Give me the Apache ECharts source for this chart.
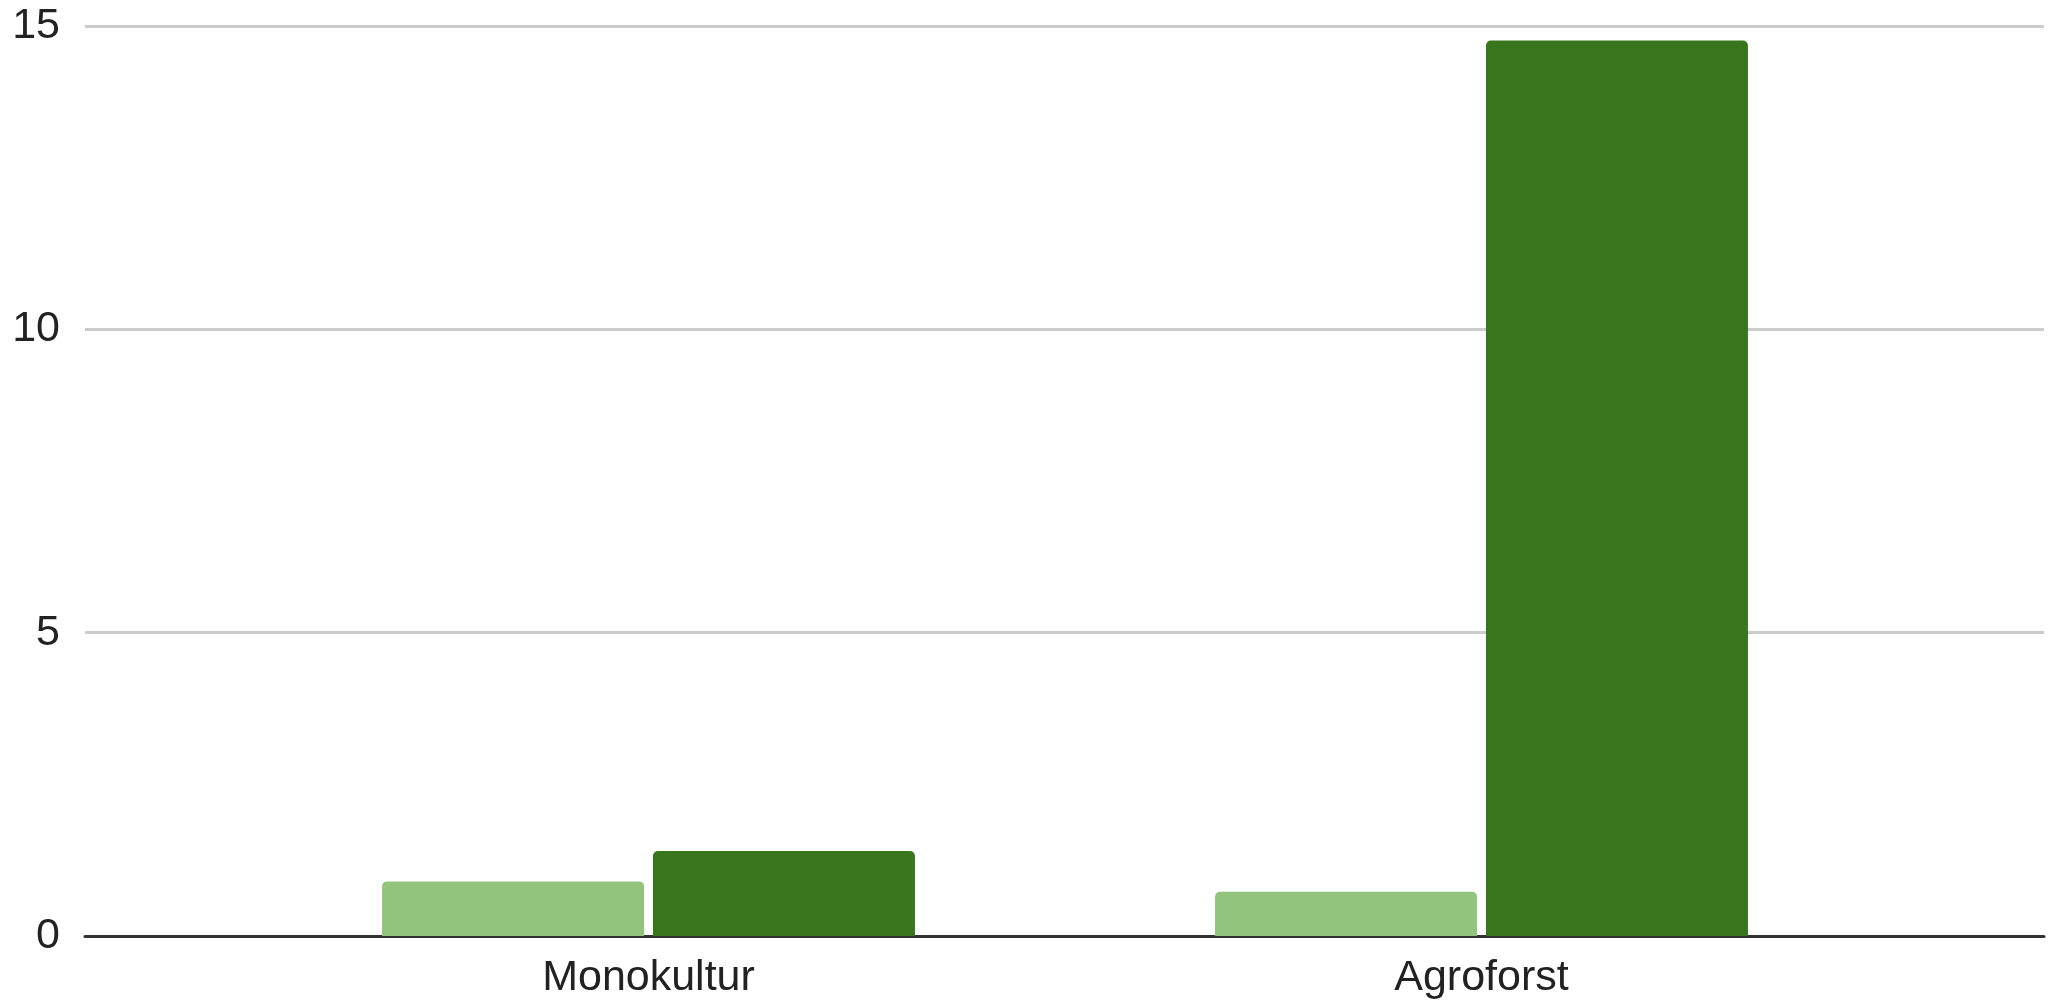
<!DOCTYPE html>
<html>
<head>
<meta charset="utf-8">
<script src="https://cdn.jsdelivr.net/npm/echarts@6/dist/echarts.min.js"></script>
<style>html,body{margin:0;padding:0;background:#fff}#c{width:2051px;height:1000px}</style>
</head>
<body>
<div id="c"></div>
<script>
const categories = ['Monokultur', 'Agroforst'];
const seriesLight = [0.9, 0.73];
const seriesDark = [1.4, 14.76];
const yTicks = [0, 5, 10, 15];

const chart = echarts.init(document.getElementById('c'));
const font = 'Liberation Sans, Arial, sans-serif';
chart.setOption({
  animation: false,
  grid: [
    { left: 85, right: 7, top: 26, bottom: 64, containLabel: false, outerBoundsMode: 'none' },
    { left: 232, right: 153, top: 26, bottom: 64, containLabel: false, outerBoundsMode: 'none' }
  ],
  xAxis: [
    { gridIndex: 0, type: 'category', data: categories, show: true,
      axisLine: { show: true, lineStyle: { color: '#333', width: 3 } },
      axisTick: { show: false }, axisLabel: { show: false }, splitLine: { show: false } },
    { gridIndex: 1, type: 'category', data: categories,
      axisLine: { show: false }, axisTick: { show: false },
      axisLabel: { color: '#222', fontSize: 43, fontFamily: font, margin: 21 } }
  ],
  yAxis: [
    { gridIndex: 0, type: 'value', min: yTicks[0], max: yTicks[yTicks.length - 1], interval: 5,
      axisLine: { show: false }, axisTick: { show: false },
      axisLabel: { color: '#222', fontSize: 43, fontFamily: font, margin: 25 },
      splitLine: { lineStyle: { color: '#cccccc', width: 3 } } },
    { gridIndex: 1, type: 'value', min: yTicks[0], max: yTicks[yTicks.length - 1], interval: 5,
      show: false, splitLine: { show: false } }
  ],
  series: [
    { type: 'bar', xAxisIndex: 1, yAxisIndex: 1, data: seriesLight, barWidth: 262, barGap: '3.4%',
      itemStyle: { color: '#93c47d', borderRadius: [5, 5, 0, 0] } },
    { type: 'bar', xAxisIndex: 1, yAxisIndex: 1, data: seriesDark, barWidth: 262, barGap: '3.4%',
      itemStyle: { color: '#38761d', borderRadius: [5, 5, 0, 0] } }
  ]
});
</script>
</body>
</html>
